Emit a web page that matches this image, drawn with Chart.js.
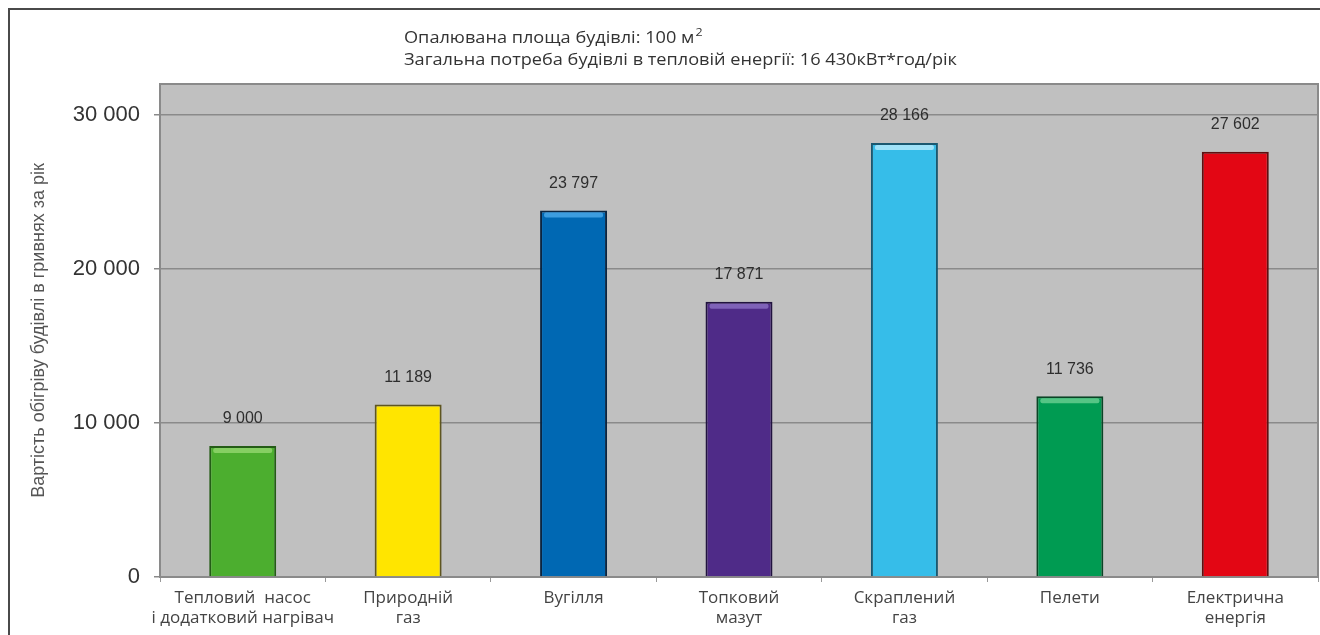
<!DOCTYPE html>
<html>
<head>
<meta charset="utf-8">
<script src="https://cdn.jsdelivr.net/npm/chart.js@4.4.1/dist/chart.umd.min.js"></script>
<style>
  body { margin: 0; background: #fff; }
  #wrap { width: 1320px; height: 635px; position: relative; }
</style>
</head>
<body>
<div id="wrap"><canvas id="mainChart"></canvas></div>
<script>
// data
const categories = [
  ['Тепловий  насос', 'і додатковий нагрівач'],
  ['Природній', 'газ'],
  'Вугілля',
  ['Топковий', 'мазут'],
  ['Скраплений', 'газ'],
  'Пелети',
  ['Електрична', 'енергія']
];
const costs = [8500, 11189, 23797, 17871, 28166, 11736, 27602];
const costLabels = ['9 000', '11 189', '23 797', '17 871', '28 166', '11 736', '27 602'];
const yTicks = [0, 10000, 20000, 30000];
const headerLines = ['Опалювана площа будівлі: 100 м', 'Загальна потреба будівлі в тепловій енергії: 16 430кВт*год/рік'];
const yTitle = 'Вартість обігріву будівлі в гривнях за рік';

const barColors  = ['#4cae2f', '#ffe500', '#0068b3', '#4f2b88', '#36bde9', '#009b52', '#e30614'];
const barBorders = ['#245c16', '#5e5520', '#0b2540', '#21133f', '#1a5870', '#0b4426', '#5e1010'];
const barShine   = ['#86cf63', null, '#3d9ddf', '#7f62b8', '#9fe2f8', '#55c585', null];

const fmt = v => String(v).replace(/\B(?=(\d{3})+(?!\d))/g, ' ');

const framePlugin = {
  id: 'frame',
  beforeDraw(chart) {
    const ctx = chart.ctx, a = chart.chartArea;
    ctx.save();
    ctx.fillStyle = '#fff';
    ctx.fillRect(0, 0, chart.width, chart.height);
    ctx.strokeStyle = '#4a4a4a';
    ctx.lineWidth = 2;
    ctx.beginPath();
    ctx.moveTo(9, chart.height);
    ctx.lineTo(9, 9);
    ctx.lineTo(chart.width, 9);
    ctx.stroke();
    ctx.fillStyle = '#c0c0c0';
    ctx.fillRect(a.left, a.top, a.right - a.left, a.bottom - a.top);
    ctx.restore();

    // header text, stretched a little to the width of the original
    ctx.save();
    ctx.fillStyle = '#333';
    ctx.font = '16px "Open Sans"';
    ctx.textBaseline = 'middle';
    const k = 553 / ctx.measureText(headerLines[1]).width;
    ctx.translate(404, 0);
    ctx.scale(k, 1);
    ctx.fillText(headerLines[0], 0, 38);
    const w0 = ctx.measureText(headerLines[0]).width;
    ctx.fillText(headerLines[1], 0, 60);
    ctx.font = '11px "Open Sans"';
    ctx.fillText('2', w0 + 1, 33);
    ctx.restore();
  },
  beforeDatasetsDraw(chart) {
    const ctx = chart.ctx, a = chart.chartArea;
    ctx.save();
    ctx.strokeStyle = '#8a8a8a';
    ctx.lineWidth = 2;
    ctx.beginPath();
    ctx.moveTo(a.left, a.bottom);
    ctx.lineTo(a.left, a.top);
    ctx.lineTo(a.right, a.top);
    ctx.lineTo(a.right, a.bottom);
    ctx.stroke();
    ctx.restore();
  },
  afterDatasetsDraw(chart) {
    const ctx = chart.ctx;
    const meta = chart.getDatasetMeta(0);
    ctx.save();
    meta.data.forEach((bar, i) => {
      const left = bar.x - bar.width / 2;
      if (barShine[i]) {
        ctx.fillStyle = barShine[i];
        ctx.beginPath();
        ctx.roundRect(left + 4, bar.y + 2, bar.width - 8, 5, 2);
        ctx.fill();
      }
      ctx.fillStyle = '#2e2e2e';
      ctx.font = '16px "Liberation Sans"';
      ctx.textAlign = 'center';
      ctx.textBaseline = 'middle';
      ctx.fillText(costLabels[i], bar.x, bar.y - 27);
    });
    ctx.restore();
  }
};

const ctx = document.getElementById('mainChart').getContext('2d');
window.myChart = new Chart(ctx, {
  type: 'bar',
  data: {
    labels: categories,
    datasets: [{
      data: costs,
      backgroundColor: barColors,
      borderColor: barBorders,
      borderWidth: 2,
      borderSkipped: 'bottom',
      barPercentage: 0.405,
      categoryPercentage: 1
    }]
  },
  options: {
    responsive: true,
    maintainAspectRatio: false,
    animation: false,
    layout: { padding: { top: 84, right: 2, left: 0, bottom: 0 } },
    plugins: {
      legend: { display: false },
      tooltip: { enabled: false }
    },
    scales: {
      x: {
        afterFit(scale) { scale.height = 58; },
        grid: { drawOnChartArea: false, tickLength: 5, color: '#999' },
        border: { color: '#8a8a8a', width: 2 },
        ticks: {
          color: '#444',
          font: { family: '"Open Sans"', size: 17, lineHeight: 1.2 },
          padding: 6,
          maxRotation: 0,
          autoSkip: false
        }
      },
      y: {
        min: 0,
        max: 32000,
        afterFit(scale) { scale.width = 160; },
        afterBuildTicks(scale) {
          scale.ticks = yTicks.map(v => ({ value: v }));
        },
        grid: { color: '#8a8a8a', lineWidth: 1.5, tickLength: 6 },
        border: { color: '#8a8a8a', width: 2 },
        ticks: {
          color: '#333',
          font: { family: '"Liberation Sans"', size: 22 },
          padding: 14,
          callback: v => fmt(v)
        },
        title: {
          display: true,
          text: yTitle,
          color: '#555',
          font: { family: '"Liberation Sans"', size: 18 },
          padding: { top: 28, bottom: 0 }
        }
      }
    }
  },
  plugins: [framePlugin]
});
</script>
</body>
</html>
